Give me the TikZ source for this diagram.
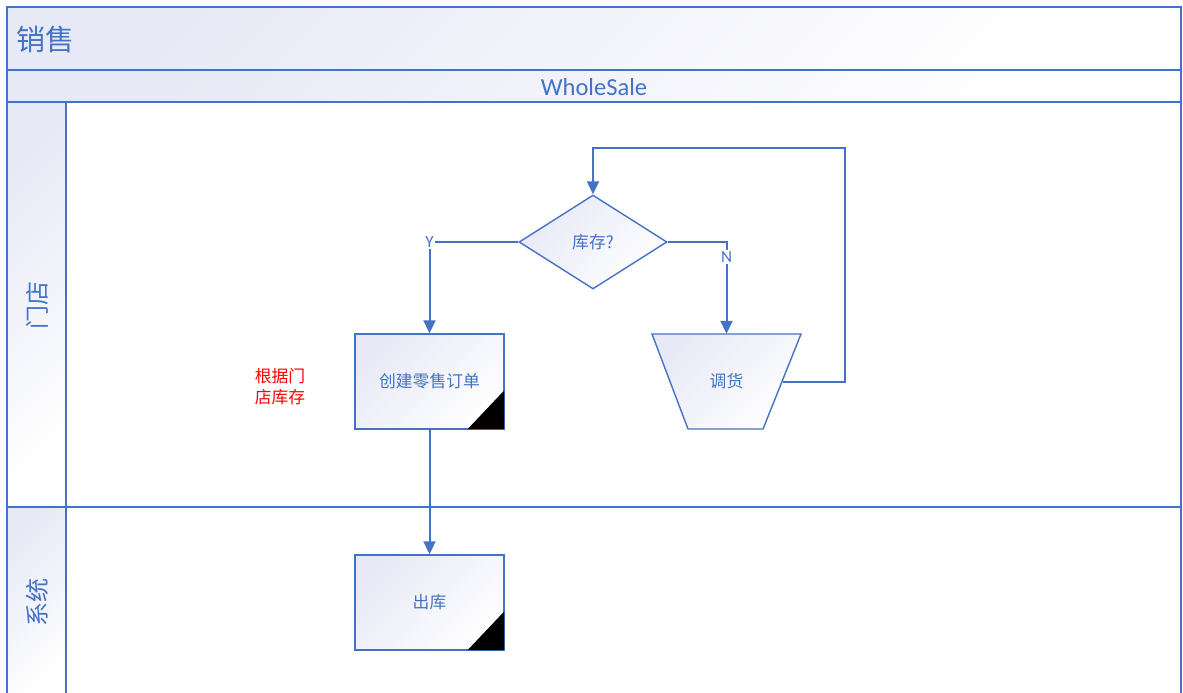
\documentclass[tikz,border=0pt]{standalone}
\usepackage{fontspec}
\setmainfont{Carlito}
\newfontfamily\cjk{Noto Sans CJK SC}
\usetikzlibrary{shapes.geometric,arrows.meta}
\definecolor{vblue}{HTML}{4472C4}
\definecolor{lav}{HTML}{E7E9F6}
\begin{document}
\begin{tikzpicture}[x=1pt,y=-1pt,
  grad/.style={top color=lav, bottom color=white, shading angle=45},
  frame/.style={draw=vblue, line width=1.6pt},
  shapeline/.style={draw=vblue, line width=1.4pt, grad, inner sep=0pt, text=vblue, font=\cjk\fontsize{16.8}{18}\selectfont},
  procbox/.style={shapeline, rectangle, minimum width=149pt, minimum height=95pt},
  arr/.style={draw=vblue, line width=2pt, -{Triangle[width=12pt,length=13pt]}},
  lbl/.style={fill=white, inner sep=1.5pt, text=vblue, font=\fontsize{17}{18}\selectfont},
  lanelbl/.style={rotate=90, text=vblue, font=\cjk\fontsize{24}{26}\selectfont}
]
\useasboundingbox (0,0) rectangle (1183,693);
% pool frame
\shade[grad] (7,7) rectangle (1181,70);
\shade[grad] (7,70) rectangle (1181,102);
\shade[grad] (7,102) rectangle (66,507);
\shade[grad] (7,507) rectangle (66,700);
\draw[frame] (7,700) -- (7,7) -- (1181,7) -- (1181,700);
\draw[frame] (7,70) -- (1181,70);
\draw[frame] (7,102) -- (1181,102);
\draw[frame] (7,507) -- (1181,507);
\draw[frame] (66,102) -- (66,700);

\node[anchor=west, text=vblue, font=\cjk\fontsize{29}{30}\selectfont, inner sep=0pt] (title) at (16,39) {销售};
\node[text=vblue, font=\fontsize{24.5}{26}\selectfont, inner sep=0pt] (ws) at (594,87) {WholeSale};
\node[lanelbl] (lane1) at (37,305) {门店};
\node[lanelbl] (lane2) at (37,602) {系统};

% shapes
\node[shapeline, diamond, minimum width=148pt, minimum height=94pt] (d) at (593,242) {库存?};
\node[procbox] (c) at (429.5,381.5) {创建零售订单};
\path[shapeline] (652,334) -- (801,334) -- (763,429) -- (688,429) -- cycle;
\node[text=vblue, font=\cjk\fontsize{16.8}{18}\selectfont, minimum width=149pt, minimum height=95pt, inner sep=0pt] (t) at (726.5,381.5) {调货};
\coordinate (tR) at (782.5,381.5);
\node[procbox] (o) at (429.5,602.5) {出库};
\node[text=red, font=\cjk\fontsize{16.8}{21}\selectfont, align=center, inner sep=0pt] (note) at (280,387) {根据门\\店库存};

% corner markers
\foreach \n in {c,o}{
  \fill[black] ([shift={(-37,-0.7)}]\n.south east) -- ([shift={(-0.7,-0.7)}]\n.south east) -- ([shift={(-0.7,-39)}]\n.south east) -- cycle;
}

% connectors
\coordinate (loopR) at (845,148);
\draw[arr] (d.west) -| node[lbl, pos=0.5] {Y} (c.north);
\draw[arr] (d.east) -| node[lbl, pos=0.58] {N} (t.north);
\draw[arr] (tR) -| (loopR) -| (d.north);
\draw[arr] (c.south) -- (o.north);
\end{tikzpicture}
\end{document}
